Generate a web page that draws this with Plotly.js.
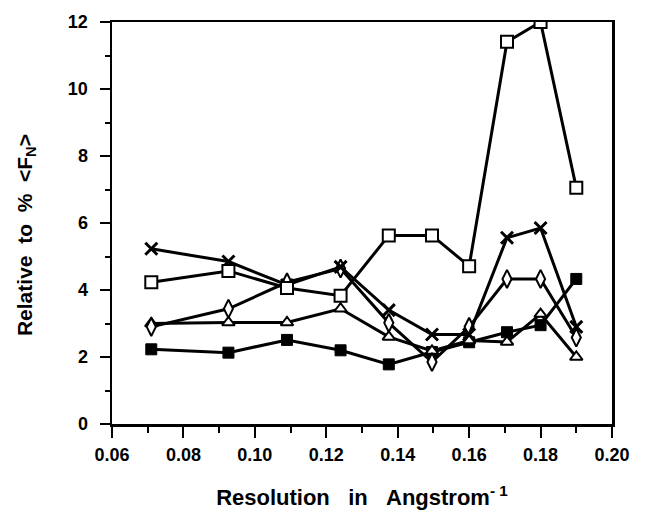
<!DOCTYPE html>
<html>
<head>
<meta charset="utf-8">
<script src="https://cdn.plot.ly/plotly-3.0.1.min.js"></script>
<style>html,body{margin:0;padding:0;background:#fff;}#chart{width:647px;height:519px;}</style>
</head>
<body>
<div id="chart"></div>
<script>
// Resolution (Angstrom^-1)
const resolution = [0.071, 0.0926, 0.109, 0.124, 0.1375, 0.1496, 0.160, 0.1706, 0.180, 0.190];
// Series values (relative to % <F_N>)
const openSquare   = [4.23, 4.57, 4.06, 3.83, 5.63, 5.63, 4.71, 11.41, 12.0, 7.05];
const crossSeries  = [5.23, 4.85, 4.15, 4.69, 3.40, 2.67, 2.67, 5.56, 5.85, 2.90];
const diamondSeries= [2.90, 3.44, 4.23, 4.64, 3.02, 1.85, 2.90, 4.33, 4.33, 2.58];
const triangleSeries=[3.00, 3.03, 3.03, 3.44, 2.60, 2.18, 2.49, 2.45, 3.28, 2.00];
const filledSquare = [2.23, 2.13, 2.51, 2.20, 1.78, 2.15, 2.44, 2.74, 2.95, 4.33];

const xTickVals = [0.06, 0.08, 0.10, 0.12, 0.14, 0.16, 0.18, 0.20];
const yTickVals = [0, 2, 4, 6, 8, 10, 12];

function series(y, symbol, size, fill, lw) {
  return {
    x: resolution, y: y, type: 'scatter', mode: 'lines+markers',
    line: {color: '#000', width: 3},
    marker: {symbol: symbol, size: size, color: fill, line: {color: '#000', width: lw}},
    showlegend: false, hoverinfo: 'skip'
  };
}

const data = [
  series(filledSquare, 'square', 11, '#000', 1),
  series(triangleSeries, 'triangle-up', 11, '#fff', 2),
  series(diamondSeries, 'diamond-tall', 13, '#fff', 2),
  series(crossSeries, 'x-thin', 12, '#000', 3),
  series(openSquare, 'square', 12, '#fff', 2)
];

const FAM = '"Liberation Sans", Arial, Helvetica, sans-serif';
const tickFont = {family: FAM, size: 18, color: '#000'};
const nb3 = '\u00A0\u00A0\u00A0';
const nb2 = '\u00A0\u00A0';
const b = s => '<b>' + s + '</b>';

const layout = {
  width: 647, height: 519,
  margin: {l: 112, r: 35, t: 22, b: 95},
  paper_bgcolor: '#fff', plot_bgcolor: '#fff',
  font: {family: FAM, color: '#000'},
  xaxis: {
    range: [0.06, 0.20], tickvals: xTickVals, ticktext: xTickVals.map(v => b(v.toFixed(2))),
    ticks: 'outside', ticklen: 11, tickwidth: 2, tickcolor: '#000',
    minor: {dtick: 0.01, tick0: 0.06, ticks: 'outside', ticklen: 6, tickwidth: 2, tickcolor: '#000', showgrid: false},
    showline: true, linecolor: '#000', linewidth: 2.5, mirror: true,
    showgrid: false, zeroline: false, tickfont: tickFont, ticklabelstandoff: 2,
    title: {text: b('Resolution' + nb3 + 'in' + nb3 + 'Angstrom<sup>-\u00A01</sup>'), font: {family: FAM, size: 22, color: '#000'}, standoff: 26}
  },
  yaxis: {
    range: [0, 12], tickvals: yTickVals, ticktext: yTickVals.map(v => b(String(v))),
    ticks: 'outside', ticklen: 10, tickwidth: 2, tickcolor: '#000',
    minor: {dtick: 1, tick0: 0, ticks: 'outside', ticklen: 5, tickwidth: 2, tickcolor: '#000', showgrid: false},
    showline: true, linecolor: '#000', linewidth: 2.5, mirror: true,
    showgrid: false, zeroline: false, tickfont: tickFont, ticklabelstandoff: 8
  },
  annotations: [{
    text: b('Relative' + nb2 + 'to' + nb2 + '%' + nb2 + '&lt;F<sub>N</sub>&gt;'),
    xref: 'paper', yref: 'paper', x: -0.172, y: 0.47, xanchor: 'center', yanchor: 'middle',
    textangle: -90, showarrow: false, font: {family: FAM, size: 21, color: '#000'}
  }]
};

Plotly.newPlot('chart', data, layout, {staticPlot: true, displayModeBar: false});
</script>
</body>
</html>
